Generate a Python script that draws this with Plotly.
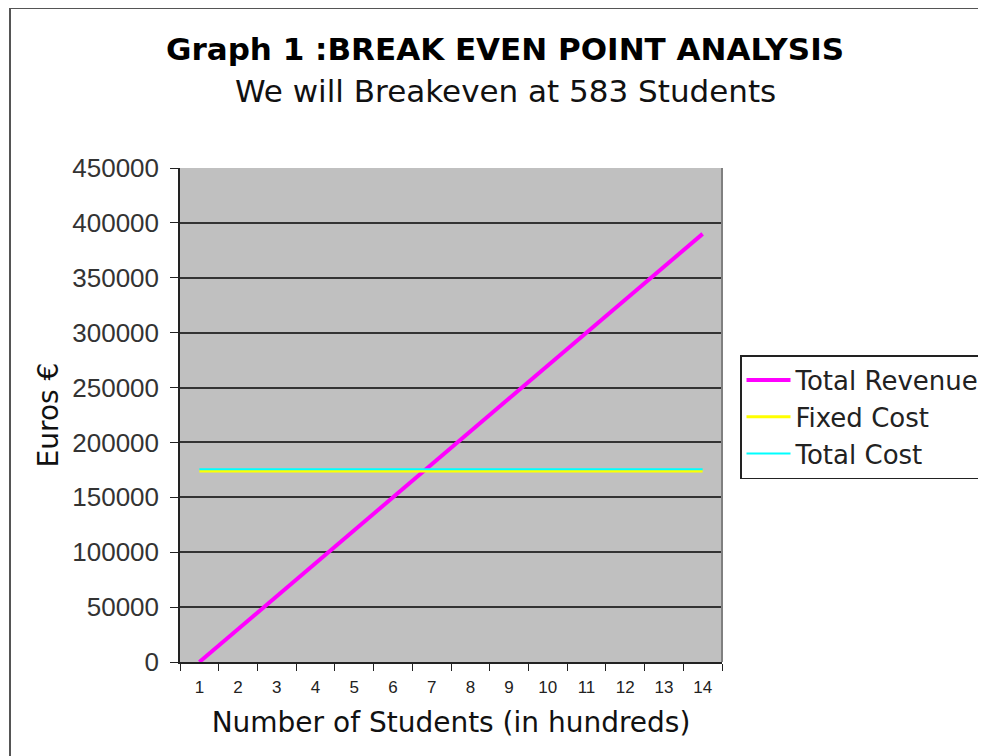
import plotly.graph_objects as go

students = [str(i) for i in range(1, 15)]
total_revenue = [0, 30000, 60000, 90000, 120000, 150000, 180000, 210000,
                 240000, 270000, 300000, 330000, 360000, 390000]
fixed_cost = [174000] * 14
total_cost = [175500] * 14

title_text = "Graph 1 :BREAK EVEN POINT ANALYSIS"
subtitle_text = "We will Breakeven at 583 Students"

OFF = 8  # page body margin
W, H = 986 - OFF, 756 - OFF
L, R, T, B = 180, 722, 168, 662  # plot area in reference window pixels
pw, ph = R - L, B - T


def px(x):
    return (x - L) / pw


def py(y):
    return (B - y) / ph


fig = go.Figure()
fig.add_trace(go.Scatter(x=students, y=total_revenue, mode="lines", name="Total Revenue",
                         line=dict(color="#FF00FF", width=4)))
fig.add_trace(go.Scatter(x=students, y=fixed_cost, mode="lines", name="Fixed Cost",
                         line=dict(color="#FFFF00", width=3)))
fig.add_trace(go.Scatter(x=students, y=total_cost, mode="lines", name="Total Cost",
                         line=dict(color="#00FFFF", width=2)))

fig.update_layout(
    width=W, height=H,
    margin=dict(l=L - OFF, r=W - (R - OFF), t=T - OFF, b=H - (B - OFF), autoexpand=False),
    paper_bgcolor="white",
    plot_bgcolor="#C0C0C0",
    font=dict(family="DejaVu Sans", color="#222222"),
    showlegend=True,
    legend=dict(x=px(740), y=py(355), xanchor="left", yanchor="top",
                bgcolor="white", bordercolor="#222222", borderwidth=1.5,
                font=dict(family="DejaVu Sans", size=26, color="#222222"),
                tracegroupgap=0, itemwidth=44),
    xaxis=dict(type="category", range=[-0.5, 13.5], tickson="boundaries",
               ticks="outside", ticklen=7, ticklabelstandoff=9,
               tickcolor="#222222", showline=True, linecolor="#222222", linewidth=1.5,
               showgrid=False, zeroline=False,
               tickfont=dict(family="Liberation Sans", size=17, color="#222222"),
               title=dict(text="Number of Students (in hundreds)",
                          font=dict(family="DejaVu Sans", size=28, color="#111111"),
                          standoff=16)),
    yaxis=dict(range=[0, 450000], dtick=50000, ticks="outside", ticklen=8,
               ticklabelstandoff=6,
               tickcolor="#222222", showline=True, linecolor="#222222", linewidth=1.5,
               showgrid=True, gridcolor="#333333", gridwidth=1.5,
               zeroline=False, tickformat="d",
               tickfont=dict(family="Liberation Sans", size=26, color="#333333"),
               title=dict(text="Euros €",
                          font=dict(family="DejaVu Sans", size=28, color="#111111"),
                          standoff=5)),
    annotations=[
        dict(text="<b>" + title_text + "</b>", xref="paper", yref="paper",
             x=px(505), y=py(49), xanchor="center", yanchor="middle", showarrow=False,
             font=dict(family="DejaVu Sans", size=31, color="#000000")),
        dict(text=subtitle_text, xref="paper", yref="paper",
             x=px(505), y=py(91), xanchor="center", yanchor="middle", showarrow=False,
             font=dict(family="DejaVu Sans", size=31, color="#111111")),
    ],
    shapes=[
        dict(type="rect", xref="paper", yref="paper", x0=px(10), x1=px(1000),
             y0=py(770), y1=py(8), line=dict(color="#555555", width=2), layer="below"),
        dict(type="line", xref="paper", yref="paper", x0=1, x1=1, y0=0, y1=1,
             line=dict(color="#808080", width=2)),
    ],
)

fig.write_html("out.html")
